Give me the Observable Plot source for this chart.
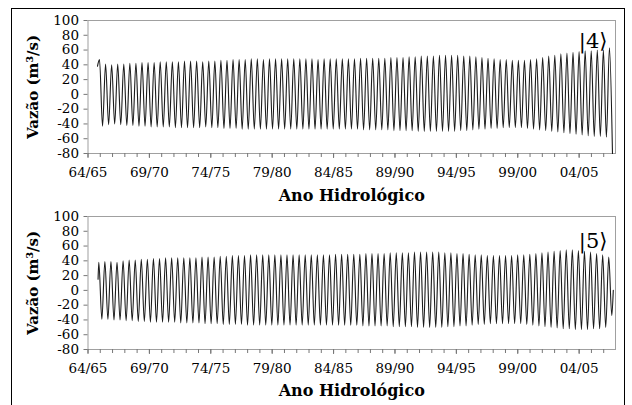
<!DOCTYPE html>
<html><head><meta charset="utf-8">
<script src="https://cdn.jsdelivr.net/npm/d3@7"></script>
<script src="https://cdn.jsdelivr.net/npm/@observablehq/plot@0.6"></script>
<style>
body{margin:0;background:#fff;width:632px;height:405px;overflow:hidden;position:relative;font-family:"DejaVu Serif",serif}
#border{position:absolute;left:11px;top:8px;width:614px;height:420px;border:1.5px solid #000;box-sizing:border-box}
#charts{position:absolute;left:0;top:0}
#charts svg{display:block;overflow:visible}
</style></head><body><div id="border"></div><div id="charts"></div>
<script>
// x axis: hydrological years counted from 64/65
const tickLabels = ["64/65","69/70","74/75","79/80","84/85","89/90","94/95","99/00","04/05"];
const tickYears = [0,5,10,15,20,25,30,35,40];
const minorYears = d3.range(0, 43);
const yTicks = [-80,-60,-40,-20,0,20,40,60,80,100];

// component |4> : start value, alternating peaks and troughs, per half-cycle
const start4 = 38;
const peaks4 = [47,
 41,40,41,41,42,42,43,43,43,44,
 44,44,44,45,45,45,44,45,45,46,
 46,47,47,47,48,48,47,48,48,48,
 48,48,48,48,48,47,48,48,48,48,
 48,48,49,49,49,49,49,50,50,50,
 51,51,52,52,52,53,53,53,53,52,
 52,51,50,49,48,47,47,46,46,46,
 47,48,50,52,53,55,56,57,58,59,
 59,60,60,63];
const troughs4 = [-43,
 -41,-40,-41,-42,-42,-43,-43,-44,-44,-44,
 -44,-45,-45,-45,-45,-45,-44,-45,-45,-46,
 -46,-46,-47,-47,-47,-47,-47,-47,-47,-47,
 -47,-47,-47,-47,-47,-47,-47,-47,-47,-47,
 -47,-47,-48,-48,-48,-48,-48,-49,-49,-49,
 -49,-50,-50,-50,-50,-50,-50,-50,-49,-49,
 -48,-47,-47,-46,-46,-45,-45,-45,-45,-46,
 -47,-48,-49,-50,-51,-52,-53,-54,-55,-56,
 -57,-57,-58,-80];

// component |5>
const start5 = 15;
const peaks5 = [38,
 39,39,38,40,41,41,42,42,43,43,
 44,44,44,44,44,44,45,45,45,46,
 46,47,47,47,48,48,48,48,48,48,
 48,48,48,48,48,48,48,48,49,49,
 49,49,49,50,50,50,50,51,51,51,
 51,52,52,52,52,52,51,51,50,50,
 49,48,48,47,47,47,47,47,48,48,
 49,50,51,52,53,54,55,55,54,53,
 52,50,48,45];
const troughs5 = [-39,
 -39,-40,-40,-41,-41,-42,-42,-43,-43,-43,
 -43,-43,-44,-44,-44,-44,-45,-45,-45,-46,
 -46,-46,-46,-47,-47,-47,-47,-47,-47,-47,
 -47,-47,-47,-47,-47,-47,-47,-47,-47,-47,
 -47,-47,-48,-48,-48,-48,-48,-49,-49,-49,
 -49,-50,-50,-50,-50,-50,-49,-49,-48,-48,
 -47,-46,-46,-45,-45,-45,-45,-45,-45,-46,
 -47,-48,-49,-50,-51,-52,-52,-53,-53,-53,
 -52,-52,-50,-34];
const end5 = 0;

const halfStep = 0.2472; // years between a peak and the next trough
function series(tStart, vStart, tFirst, peaks, troughs, tEnd, vEnd) {
  const pts = [{t: tStart, v: vStart}];
  peaks.forEach((p, k) => {
    pts.push({t: tFirst + 2 * k * halfStep, v: p});
    pts.push({t: tFirst + (2 * k + 1) * halfStep, v: troughs[k]});
  });
  if (vEnd !== undefined) pts.push({t: tEnd, v: vEnd});
  return pts;
}
const data4 = series(0.77, start4, 0.937, peaks4, troughs4);
const data5 = series(0.82, start5, 0.88, peaks5, troughs5, 42.78, end5);

const labelMap = new Map(tickYears.map((y, i) => [y, tickLabels[i]]));

function panel(data, name, opts) {
  return Plot.plot({
    width: 632, height: opts.height,
    marginLeft: 87.5, marginRight: 17, marginTop: opts.mt, marginBottom: opts.mb,
    style: {fontFamily: "DejaVu Serif", fontSize: "13.5px", color: "#000", background: "transparent", overflow: "visible"},
    x: {domain: [0, 42.96], axis: null},
    y: {domain: [-80, 100], axis: null},
    marks: [
      Plot.frame({stroke: "#a0a0a0", strokeWidth: 1}),
      Plot.axisX({ticks: minorYears, tickSize: 4, tickFormat: () => "", label: null, stroke: "#777"}),
      Plot.axisX({ticks: tickYears, tickSize: 5, tickPadding: 9, tickFormat: d => labelMap.get(d), label: null, stroke: "#777"}),
      Plot.axisY({ticks: yTicks, tickSize: 4, tickPadding: 5, tickFormat: d => String(d), label: null, stroke: "#777"}),
      Plot.line(data, {x: "t", y: "v", stroke: "#1a1a1a", strokeWidth: 1.1, curve: "monotone-x"}),
      Plot.text([name], {frameAnchor: "top-right", dx: -8, dy: opts.ldy, fontSize: 21, textAnchor: "end", lineAnchor: "middle", fontFamily: "DejaVu Serif"}),
      Plot.text(["Vazão (m³/s)"], {frameAnchor: "left", dx: -55, rotate: -90, fontSize: 15, fontWeight: "bold", textAnchor: "middle", lineAnchor: "middle"}),
      Plot.text(["Ano Hidrológico"], {frameAnchor: "bottom", dy: opts.cdy, fontSize: 16, fontWeight: "bold", textAnchor: "middle", lineAnchor: "middle"})
    ]
  });
}
const host = document.getElementById("charts");
host.appendChild(panel(data4, "|4⟩", {height: 198, mt: 20, mb: 45, ldy: 21, cdy: 42}));
host.appendChild(panel(data5, "|5⟩", {height: 207, mt: 18, mb: 56, ldy: 25, cdy: 41}));
</script></body></html>
